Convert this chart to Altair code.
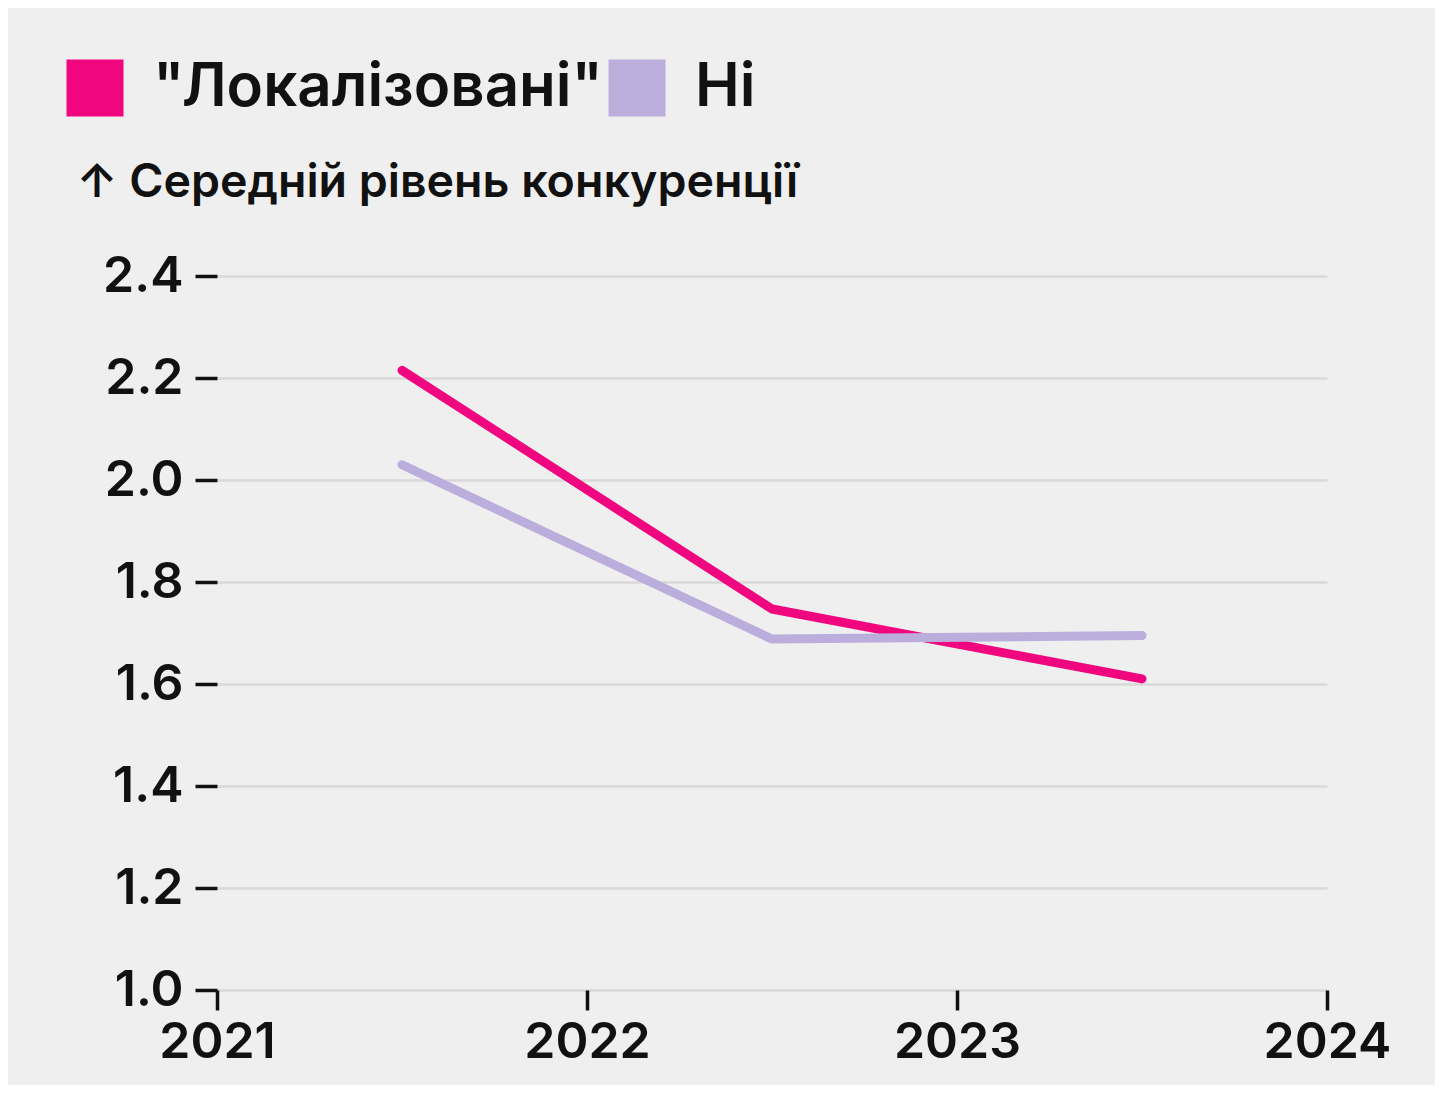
import altair as alt
import pandas as pd

years = [2021.5, 2022.5, 2023.5]
series_names = ['"Локалізовані"', "Ні"]
localized = [2.215, 1.747, 1.610]
other = [2.030, 1.688, 1.695]
y_ticks = [1.0, 1.2, 1.4, 1.6, 1.8, 2.0, 2.2, 2.4]
x_ticks = [2021, 2022, 2023, 2024]
colors = ["#f0077f", "#bcaedc"]

rows = []
for name, vals in zip(series_names, [localized, other]):
    for yr, v in zip(years, vals):
        rows.append({"year": yr, "value": v, "series": name})
df = pd.DataFrame(rows)

FONT = "Inter"

x_enc = alt.X("year:Q",
              scale=alt.Scale(domain=[2021, 2024], nice=False, zero=False),
              axis=alt.Axis(values=x_ticks, format="d", title=None, grid=False, domain=False,
                            tickSize=20, tickWidth=3.5, tickColor="#111", tickOffset=0,
                            labelFontSize=50, labelFontWeight=600, labelColor="#111",
                            labelPadding=7, labelFont=FONT, labelFlush=False))
y_enc = alt.Y("value:Q",
              scale=alt.Scale(domain=[1.0, 2.4], nice=False, zero=False),
              axis=alt.Axis(values=y_ticks, format=".1f", title="↑ Середній рівень конкуренції",
                            grid=True, gridColor="#d9d9d9", gridWidth=2.5, domain=False,
                            tickSize=22, tickWidth=3.5, tickColor="#111",
                            labelFontSize=50, labelFontWeight=600, labelColor="#111",
                            labelPadding=12, labelFont=FONT,
                            titleAngle=0, titleAlign="left", titleBaseline="alphabetic",
                            titleX=-141, titleY=-80, titleFontSize=46.5, titleFontWeight=600,
                            titleFont=FONT, titleColor="#111"))
color_scale = alt.Scale(domain=series_names, range=colors)

lines = alt.Chart(df).mark_line(strokeWidth=9, strokeCap="round", strokeJoin="round").encode(
    x=x_enc,
    y=y_enc,
    color=alt.Color("series:N", scale=color_scale, sort=series_names, legend=None),
    order=alt.Order("series:N", sort="descending"),
)

legend_layer = alt.Chart(df).mark_square(filled=True, opacity=0, size=10).encode(
    x=x_enc,
    y=y_enc,
    color=alt.Color("series:N", scale=color_scale, sort=series_names,
                    legend=alt.Legend(title=None, orient="none", direction="horizontal",
                                      legendX=-152, legendY=-218, padding=0,
                                      symbolType="square", symbolSize=3249,
                                      symbolStrokeWidth=0, symbolOpacity=1,
                                      labelFontSize=60, labelFontWeight=600, labelFont=FONT,
                                      labelColor="#111",
                                      labelOffset=28, columnPadding=4, labelLimit=700)),
)

chart = alt.layer(lines, legend_layer).resolve_legend(color="independent").properties(
    width=1110,
    height=714,
    autosize=alt.AutoSizeParams(type="none"),
    padding={"left": 209, "top": 268, "right": 108, "bottom": 95},
    background="#efefef",
).configure_view(stroke=None)

chart.save("out.html", embed_options={"renderer": "svg", "actions": False})
